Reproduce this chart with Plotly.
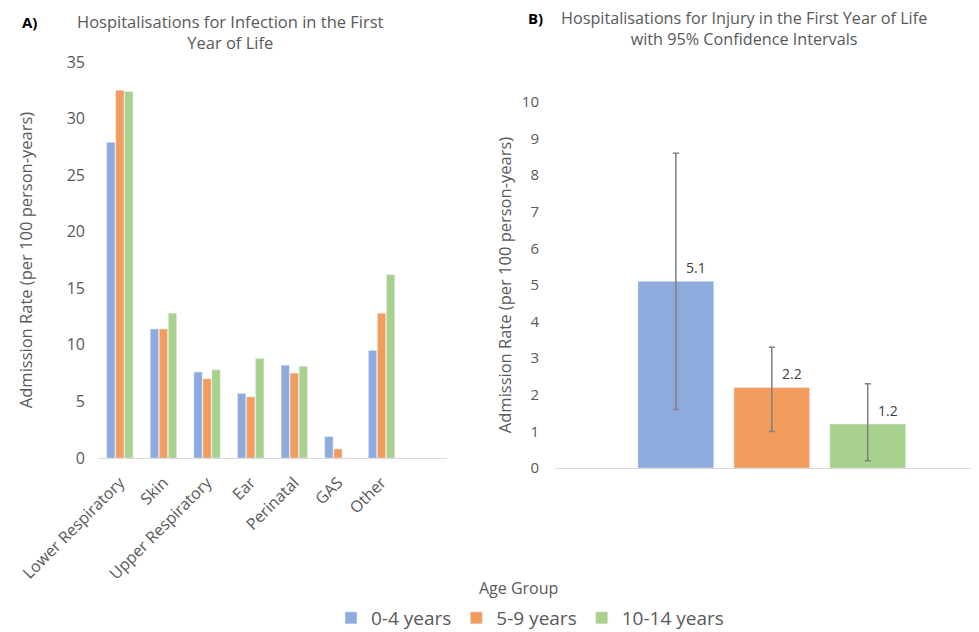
import plotly.graph_objects as go

# ---- Data ----
age_groups = ["0-4 years", "5-9 years", "10-14 years"]
colors = ["#8FAADC", "#F29D5E", "#A9D18E"]

infection_categories = ["Lower Respiratory", "Skin", "Upper Respiratory", "Ear", "Perinatal", "GAS", "Other"]
infection_0_4 = [27.9, 11.4, 7.6, 5.7, 8.2, 1.9, 9.5]
infection_5_9 = [32.5, 11.4, 7.0, 5.4, 7.5, 0.8, 12.8]
infection_10_14 = [32.4, 12.8, 7.8, 8.8, 8.1, 0.0, 16.2]

injury_rate = [5.1, 2.2, 1.2]
injury_ci_low = [1.6, 1.0, 0.2]
injury_ci_high = [8.6, 3.3, 2.3]

FONT = "Open Sans"
GRAY = "#595959"
OFF = 8  # page body margin
W, H = 979 - OFF, 632 - OFF


def px(x):
    return (x - OFF) / W


def py(y):
    return 1 - (y - OFF) / H


fig = go.Figure()

infection_series = [infection_0_4, infection_5_9, infection_10_14]
for name, vals, col in zip(age_groups, infection_series, colors):
    fig.add_trace(go.Bar(
        x=infection_categories, y=vals, name=name, marker_color=col,
        xaxis="x", yaxis="y", legendgroup=name, showlegend=True,
    ))

for i, (name, v, lo, hi, col) in enumerate(zip(age_groups, injury_rate, injury_ci_low, injury_ci_high, colors)):
    fig.add_trace(go.Bar(
        x=[i], y=[v], name=name, marker_color=col, width=0.79, offsetgroup="inj",
        xaxis="x2", yaxis="y2", legendgroup=name, showlegend=False,
        error_y=dict(type="data", symmetric=False, array=[hi - v], arrayminus=[v - lo],
                     color="#808080", thickness=1.5, width=3),
    ))
    fig.add_annotation(x=i, y=v, xref="x2", yref="y2", text=f"{v:.1f}", showarrow=False,
                       xshift=20, yshift=14, font=dict(family=FONT, size=14, color="#404040"))

fig.update_layout(
    width=W, height=H,
    paper_bgcolor="white", plot_bgcolor="white",
    margin=dict(l=0, r=0, t=0, b=0, autoexpand=False),
    barmode="group", bargap=0.38, bargroupgap=0.08,
    font=dict(family=FONT, color=GRAY),
    xaxis=dict(domain=[px(98), px(447)], type="category", anchor="y", automargin=False,
               categoryarray=infection_categories, categoryorder="array",
               range=[-0.5, 7.5], tickangle=-45, showline=True, linecolor="#d9d9d9",
               linewidth=1, ticks="", showgrid=False, ticklabelstandoff=8,
               tickfont=dict(size=16, color=GRAY)),
    yaxis=dict(domain=[py(458), py(62)], range=[0, 35], dtick=5, showgrid=False,
               anchor="x", automargin=False, ticklabelstandoff=12,
               zeroline=False, showline=False, tickfont=dict(size=16, color=GRAY),
               title=dict(text="Admission Rate (per 100 person-years)", font=dict(size=16.5, color=GRAY), standoff=29)),
    xaxis2=dict(domain=[px(555), 1.0], range=[-1.26, 3.16], showticklabels=False, showline=True,
                anchor="y2", automargin=False,
                linecolor="#d9d9d9", linewidth=1, showgrid=False, zeroline=False, ticks=""),
    yaxis2=dict(domain=[py(468), py(102)], range=[0, 10], dtick=1, anchor="x2", showgrid=False,
                automargin=False, ticklabelstandoff=15,
                zeroline=False, showline=False, tickfont=dict(size=15, color=GRAY),
                title=dict(text="Admission Rate (per 100 person-years)", font=dict(size=16.5, color=GRAY), standoff=6)),
    legend=dict(orientation="h", x=px(530), xanchor="center", y=py(618), yanchor="middle",
                font=dict(size=19, color=GRAY), itemwidth=30, traceorder="normal"),
)

annotations = [
    dict(x=20, y=22, text="<b>A)</b>", font=dict(size=15, color="black")),
    dict(x=230, y=32, text="Hospitalisations for Infection in the First<br>Year of Life", font=dict(size=16.5, color=GRAY)),
    dict(x=526, y=18, text="<b>B)</b>", font=dict(size=15, color="black")),
    dict(x=744, y=29, text="Hospitalisations for Injury in the First Year of Life<br>with 95% Confidence Intervals", font=dict(size=16.2, color=GRAY)),
    dict(x=518, y=588, text="Age Group", font=dict(size=16, color=GRAY)),
]
for a in annotations:
    xa = "left" if a["text"].startswith("<b>") else "center"
    fig.add_annotation(x=px(a["x"]), y=py(a["y"]), xref="paper", yref="paper",
                       text=a["text"], showarrow=False, xanchor=xa, yanchor="middle",
                       font=dict(family=FONT, **a["font"]))

fig.write_html("out.html")
